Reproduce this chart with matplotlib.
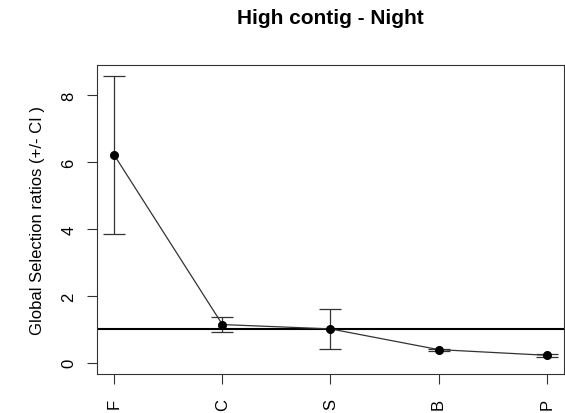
import numpy as np
import matplotlib
matplotlib.use("Agg")
import matplotlib.pyplot as plt

plt.rcParams['font.family'] = ['Liberation Sans', 'DejaVu Sans']

# habitat classes and global selection ratios with CI bounds
habitats = ['F', 'C', 'S', 'B', 'P']
ratios = [6.21, 1.14, 1.01, 0.39, 0.22]
ci_low = [3.85, 0.92, 0.42, 0.35, 0.17]
ci_high = [8.57, 1.37, 1.62, 0.42, 0.27]

x = np.arange(1, len(habitats) + 1)
ratios = np.array(ratios)
yerr = [ratios - np.array(ci_low), np.array(ci_high) - ratios]

fig = plt.figure(figsize=(5.65, 4.14), dpi=100)
ax = fig.add_axes([0.1717, 0.0942, 0.8265, 0.7464])

ax.axhline(1, color='black', lw=1.5, zorder=1)
ax.errorbar(x, ratios, yerr=yerr, fmt='none', ecolor='#333333', elinewidth=0.9,
            capsize=8, capthick=0.9, zorder=2)
ax.plot(x, ratios, color='#333333', lw=0.9, marker='o', ms=5.5,
        mfc='black', mec='black', zorder=3)

ax.set_xlim(0.84, 5.16)
ax.set_ylim(-0.34, 8.91)
ax.set_xticks(x)
ax.set_xticklabels(habitats, rotation=90, fontsize=12)
ax.set_yticks([0, 2, 4, 6, 8])
ax.set_yticklabels(['0', '2', '4', '6', '8'], rotation=90, va='center', fontsize=12)
ax.tick_params(axis='x', length=7, width=0.8, color='#333333', pad=10)
ax.tick_params(axis='y', length=7, width=0.8, color='#333333', pad=8)

for s in ax.spines.values():
    s.set_color('#333333')
    s.set_linewidth(0.8)

ax.set_ylabel('Global Selection ratios (+/- CI )', fontsize=12, labelpad=12)
ax.set_title('High contig - Night', fontsize=15, fontweight='bold', pad=30)

fig.savefig('out.png', dpi=100)
